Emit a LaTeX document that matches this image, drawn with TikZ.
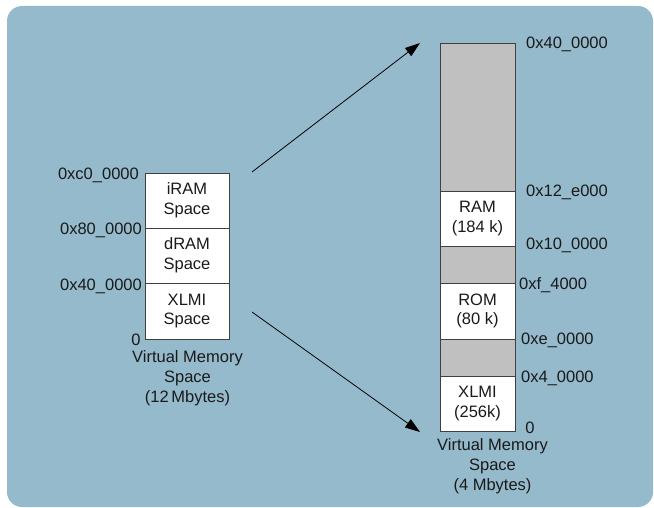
\documentclass[tikz,border=0pt]{standalone}
\usepackage{fontspec}
\setmainfont{Liberation Sans}
\usetikzlibrary{arrows.meta}
\definecolor{panel}{HTML}{95BACC}
\definecolor{ink}{HTML}{1A1A1A}
\definecolor{edge}{HTML}{404040}
\definecolor{unused}{HTML}{C0C0C0}

\tikzset{
  cell/.style={draw=edge, fill=white, line width=0.9pt, inner sep=0pt, align=center, text=ink},
  gapcell/.style={cell, fill=unused},
  addr/.style={inner sep=0pt, text=ink},
  caption/.style={inner sep=0pt, align=center, text=ink},
  mapto/.style={line width=0.8pt, draw=black, -{Triangle[length=15pt,width=10pt]}}
}

\begin{document}
\begin{tikzpicture}[x=1pt, y=-1pt, font=\fontsize{16.5}{19.8}\selectfont]
  \useasboundingbox (0,0) rectangle (654,508);
  \fill[panel, rounded corners=15pt] (7,6) rectangle (653,507);

  % 12 Mbyte space
  \foreach \nm/\ya/\yb/\txt in {iram/173/228/{iRAM\\Space}, dram/228/283/{dRAM\\Space}, lxlmi/283/339/{XLMI\\Space}} {
    \node[cell, minimum width=84pt, minimum height=\yb-\ya] (\nm) at (187,{(\ya+\yb)/2}) {\txt};
  }
  \node[addr, anchor=east] (la) at (139,175) {0xc0\_0000};
  \node[addr, anchor=east] (lb) at (142,230) {0x80\_0000};
  \node[addr, anchor=east] (lc) at (142,286) {0x40\_0000};
  \node[addr] (ld) at (136,340) {0};
  \node[caption] (lcap) at (187.5,378.5) {Virtual Memory\\Space\\(12\,Mbytes)};

  % 4 Mbyte space
  \foreach \nm/\ya/\yb/\sty/\txt in {gapa/43/191/gapcell/{}, ram/191/246/cell/{RAM\\(184 k)}, gapb/246/283/gapcell/{}, rom/283/339/cell/{ROM\\(80 k)}, gapc/339/376/gapcell/{}, rxlmi/376/431/cell/{XLMI\\(256k)}} {
    \node[\sty, minimum width=75pt, minimum height=\yb-\ya] (\nm) at (477.5,{(\ya+\yb)/2}) {\txt};
  }
  \node[addr, anchor=west] (ra) at (526,44) {0x40\_0000};
  \node[addr, anchor=west] (rb) at (526,192) {0x12\_e000};
  \node[addr, anchor=west] (rc) at (526,245) {0x10\_0000};
  \node[addr, anchor=west] (rd) at (519,285) {0xf\_4000};
  \node[addr, anchor=west] (re) at (521,340) {0xe\_0000};
  \node[addr, anchor=west] (rf) at (521,378) {0x4\_0000};
  \node[addr] (rg) at (530,428) {0};
  \node[caption] (rcap) at (492.5,466) {Virtual Memory\\Space\\(4 Mbytes)};

  % mapping arrows
  \coordinate (fromtop) at (252,172);
  \coordinate (totop) at (420,43);
  \coordinate (frombot) at (252,312);
  \coordinate (tobot) at (420,432);
  \draw[mapto] (fromtop) -- (totop);
  \draw[mapto] (frombot) -- (tobot);
\end{tikzpicture}
\end{document}
